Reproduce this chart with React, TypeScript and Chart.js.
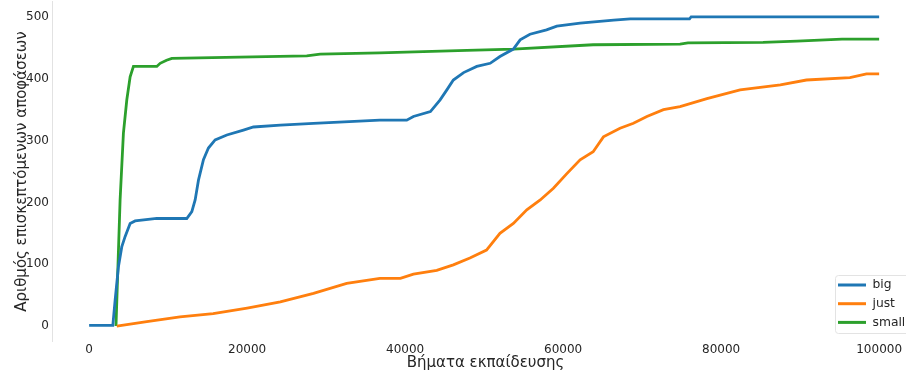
import React, { useEffect, useRef } from "react";
import { Chart, registerables } from "chart.js";

Chart.register(...registerables);

const seriesNames = ["big", "just", "small"];
const seriesColors = ["#1f77b4", "#ff7f0e", "#2ca02c"];

const xTicks = [0, 20000, 40000, 60000, 80000, 100000];
const yTicks = [0, 100, 200, 300, 400, 500];

const bigSteps = [0, 3000, 3290, 3710, 4130, 4560, 5190, 5820, 8570, 12360, 13000, 13420, 13840, 14470, 15100, 15950, 17430, 19530, 20800, 24200, 28400, 36800, 40200, 41050, 43200, 44430, 45280, 46100, 47400, 49070, 50760, 52000, 53700, 54560, 55800, 57900, 59200, 62150, 66400, 68500, 76000, 76200, 100000];
const bigVisited = [1, 1, 42, 96, 128, 145, 166, 170, 174, 174, 185, 204, 236, 269, 288, 301, 309, 317, 322, 325, 328, 333, 333, 339, 347, 366, 382, 398, 410, 420, 425, 436, 448, 463, 472, 479, 485, 490, 495, 497, 497, 500, 500];

const justSteps = [3500, 7300, 11500, 15700, 20000, 24200, 28400, 32600, 36800, 39400, 41050, 44000, 46100, 48200, 50300, 52000, 53700, 55400, 57100, 58770, 60500, 62150, 63800, 65100, 67200, 68900, 70600, 72700, 74800, 78200, 82400, 87500, 90800, 96300, 98400, 100000];
const justVisited = [0, 7, 15, 20, 29, 39, 53, 69, 77, 77, 84, 90, 99, 110, 123, 150, 166, 188, 204, 223, 247, 269, 282, 306, 320, 328, 339, 350, 355, 368, 382, 390, 398, 402, 408, 408];

const smallSteps = [3400, 3920, 4340, 4770, 5190, 5610, 8570, 8990, 9800, 10470, 27550, 29240, 36800, 47800, 53700, 63800, 74800, 75800, 85300, 89600, 95300, 100000];
const smallVisited = [0, 204, 312, 366, 403, 420, 420, 425, 430, 433, 437, 440, 442, 446, 448, 455, 456, 458, 459, 461, 464, 464];

const xTitle = "Βήματα εκπαίδευσης";
const yTitle = "Αριθμός επισκεπτόμενων αποφάσεων";

const FONT = "'DejaVu Sans', sans-serif";
const TEXT = "#262626";

function toPoints(xs: number[], ys: number[]) {
  return xs.map((x, i) => ({ x, y: ys[i] }));
}

// The original axes box runs slightly past the right edge of the picture;
// widen the x scale box (not its value mapping) so its title centres the same way.
const titleShiftPlugin = {
  id: "titleShift",
  afterLayout(chart: any) {
    const sx = chart.scales.x;
    if (sx) sx.right = sx.right + 13;
  },
};

const legendPlugin = {
  id: "boxLegend",
  afterDraw(chart: any) {
    const ctx = chart.ctx as CanvasRenderingContext2D;
    ctx.save();
    const x0 = 835.5, y0 = 275.5, w = 90, h = 58, r = 3;
    ctx.beginPath();
    ctx.moveTo(x0 + r, y0);
    ctx.lineTo(x0 + w, y0);
    ctx.lineTo(x0 + w, y0 + h);
    ctx.lineTo(x0 + r, y0 + h);
    ctx.arcTo(x0, y0 + h, x0, y0 + h - r, r);
    ctx.lineTo(x0, y0 + r);
    ctx.arcTo(x0, y0, x0 + r, y0, r);
    ctx.closePath();
    ctx.fillStyle = "rgba(255,255,255,0.8)";
    ctx.fill();
    ctx.strokeStyle = "#e3e3e3";
    ctx.lineWidth = 1;
    ctx.stroke();
    chart.data.datasets.forEach((ds: any, i: number) => {
      const cy = 285 + i * 18.7;
      ctx.strokeStyle = ds.borderColor;
      ctx.lineWidth = 3;
      ctx.beginPath();
      ctx.moveTo(838, cy);
      ctx.lineTo(866, cy);
      ctx.stroke();
      ctx.fillStyle = TEXT;
      ctx.font = `12.3px ${FONT}`;
      ctx.textBaseline = "middle";
      ctx.textAlign = "left";
      ctx.fillText(ds.label, 872.5, cy);
    });
    ctx.restore();
  },
};

export default function App() {
  const ref = useRef<HTMLCanvasElement>(null);
  useEffect(() => {
    document.body.style.margin = "0";
    const seriesData = [
      toPoints(bigSteps, bigVisited),
      toPoints(justSteps, justVisited),
      toPoints(smallSteps, smallVisited),
    ];
    const chart = new Chart(ref.current as HTMLCanvasElement, {
      type: "line",
      data: {
        datasets: seriesNames.map((name, i) => ({
          label: name,
          data: seriesData[i],
          borderColor: seriesColors[i],
          backgroundColor: seriesColors[i],
          borderWidth: 2.8,
          pointRadius: 0,
          tension: 0,
          fill: false,
        })),
      },
      options: {
        animation: false,
        responsive: false,
        events: [],
        layout: { padding: { top: 1.5, right: 0, left: 0, bottom: 0 } },
        plugins: {
          legend: { display: false },
          tooltip: { enabled: false },
        },
        scales: {
          x: {
            type: "linear",
            min: -4700,
            max: 103400,
            grid: { display: false, drawTicks: false },
            border: { display: false },
            afterBuildTicks: (s: any) => {
              s.ticks = xTicks.map((v) => ({ value: v }));
            },
            afterFit: (s: any) => {
              s.height = 32.5;
              s.paddingLeft = 0;
              s.paddingRight = 0;
            },
            ticks: {
              padding: 1,
              maxRotation: 0,
              autoSkip: false,
              color: TEXT,
              font: { family: FONT, size: 12 },
              callback: (v: any) => String(v),
            },
            title: {
              display: true,
              text: xTitle,
              color: TEXT,
              font: { family: FONT, size: 15 },
              padding: { top: 0, bottom: 2 },
            },
          },
          y: {
            type: "linear",
            min: -25,
            max: 525,
            grid: { display: false, drawTicks: false },
            border: { display: true, color: "#e2e2e2", width: 1 },
            afterBuildTicks: (s: any) => {
              s.ticks = yTicks.map((v) => ({ value: v }));
            },
            afterFit: (s: any) => {
              s.width = 52;
              s.paddingTop = 0;
              s.paddingBottom = 0;
            },
            ticks: {
              padding: 3,
              color: TEXT,
              font: { family: FONT, size: 12 },
              callback: (v: any) => String(v),
            },
            title: {
              display: true,
              text: yTitle,
              color: TEXT,
              font: { family: FONT, size: 15 },
              padding: { top: 13, bottom: 0 },
            },
          },
        },
      },
      plugins: [titleShiftPlugin, legendPlugin],
    });
    return () => chart.destroy();
  }, []);
  return (
    <canvas
      ref={ref}
      width={906}
      height={374}
      style={{ display: "block", width: 906, height: 374 }}
    />
  );
}
